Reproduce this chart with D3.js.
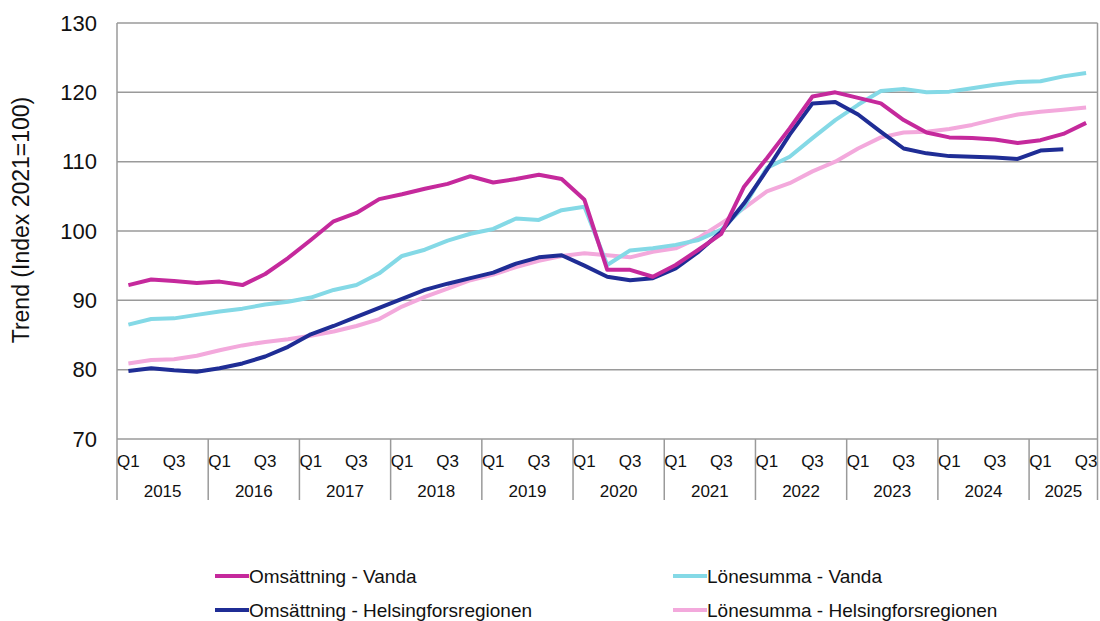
<!DOCTYPE html>
<html>
<head>
<meta charset="utf-8">
<script src="https://cdn.jsdelivr.net/npm/d3@7"></script>
<style>
  body { margin: 0; background: #fff; }
  svg { font-family: "Liberation Sans", Arial, sans-serif; }
</style>
</head>
<body>
<script>
// Data: quarterly trend, index 2021=100
const years = ["2015","2016","2017","2018","2019","2020","2021","2022","2023","2024","2025"];
const quarters = ["Q1","Q2","Q3","Q4"];

const omsVanda = [92.2,93.0,92.8,92.5, 92.7,92.2,93.8,96.1, 98.7,101.4,102.6,104.6,
  105.3,106.1,106.8,107.9, 107.0,107.5,108.1,107.5, 104.5,94.4,94.4,93.4,
  95.1,97.3,99.6,106.4, 110.5,114.8,119.4,120.0, 119.2,118.4,116.0,114.2,
  113.5,113.4,113.2,112.7, 113.1,114.0,115.6];

const lonVanda = [86.5,87.3,87.4,87.9, 88.4,88.8,89.4,89.8, 90.4,91.5,92.2,93.9,
  96.4,97.3,98.6,99.6, 100.3,101.8,101.6,103.0, 103.5,95.1,97.2,97.5,
  98.0,98.7,100.2,103.5, 109.1,110.7,113.4,116.0, 118.2,120.2,120.5,120.0,
  120.1,120.6,121.1,121.5, 121.6,122.3,122.8];

const omsHki = [79.8,80.2,79.9,79.7, 80.2,80.9,81.9,83.3, 85.1,86.3,87.6,88.9,
  90.2,91.5,92.4,93.2, 94.0,95.3,96.2,96.5, 95.0,93.4,92.9,93.2,
  94.6,97.0,99.9,104.0, 108.8,113.9,118.4,118.6, 116.8,114.3,111.9,111.2,
  110.8,110.7,110.6,110.4, 111.6,111.8,null];

const lonHki = [80.9,81.4,81.5,82.0, 82.8,83.5,84.0,84.4, 84.9,85.5,86.3,87.3,
  89.1,90.5,91.7,92.9, 93.7,94.8,95.7,96.4, 96.8,96.5,96.2,97.0,
  97.5,99.0,101.1,103.3, 105.7,106.9,108.6,110.0, 111.9,113.5,114.2,114.3,
  114.7,115.3,116.1,116.8, 117.2,117.5,117.8];

const yTicks = [70, 80, 90, 100, 110, 120, 130];

const seriesNames = ["Omsättning - Vanda", "Lönesumma - Vanda",
                     "Omsättning - Helsingforsregionen", "Lönesumma - Helsingforsregionen"];
const seriesColors = ["#c5299c", "#84d9e6", "#1f2d95", "#f3a9dc"];
const seriesValues = [omsVanda, lonVanda, omsHki, lonHki];

// quarter categories: Q1 2015 .. Q3 2025
const categories = [];
years.forEach(yr => quarters.forEach(q => categories.push({year: yr, q: q})));
categories.length = omsVanda.length;

const W = 1100, H = 621;
const margin = {top: 23, left: 117, right: 2.5, bottom: 182};
const width = W - margin.left - margin.right;
const height = H - margin.top - margin.bottom;

const svg = d3.select("body").append("svg")
  .attr("width", W).attr("height", H);

const g = svg.append("g").attr("transform", `translate(${margin.left},${margin.top})`);

const x = d3.scaleBand().domain(d3.range(categories.length)).range([0, width]);
const y = d3.scaleLinear().domain([70, 130]).range([height, 0]);

// gridlines
g.append("g").selectAll("line").data(yTicks).join("line")
  .attr("x1", 0).attr("x2", width)
  .attr("y1", d => y(d)).attr("y2", d => y(d))
  .attr("stroke", "#9a9a9a").attr("stroke-width", 1.5);

// y axis labels
const yAxis = g.append("g").call(d3.axisLeft(y).tickValues(yTicks).tickSize(0).tickPadding(20));
yAxis.select(".domain").remove();
yAxis.selectAll("text").attr("font-size", 22).attr("fill", "#111")
  .attr("font-family", "Liberation Sans, Arial, sans-serif");

// y title
svg.append("text")
  .attr("transform", `translate(29, 220) rotate(-90)`)
  .attr("text-anchor", "middle")
  .attr("font-size", 23).attr("fill", "#111")
  .text("Trend (Index 2021=100)");

// plot edges + category dividers
const catBottom = height + 61;
g.append("line").attr("x1", 0).attr("x2", 0).attr("y1", 0).attr("y2", catBottom)
  .attr("stroke", "#9a9a9a").attr("stroke-width", 1.5);
g.append("line").attr("x1", width).attr("x2", width).attr("y1", 0).attr("y2", catBottom)
  .attr("stroke", "#9a9a9a").attr("stroke-width", 1.5);

const yearStarts = categories.map((c, i) => c.q === "Q1" ? i : -1).filter(i => i > 0);
g.append("g").selectAll("line").data(yearStarts).join("line")
  .attr("x1", i => x(i)).attr("x2", i => x(i))
  .attr("y1", height).attr("y2", catBottom)
  .attr("stroke", "#9a9a9a").attr("stroke-width", 1.5);

// quarter labels (Q1 and Q3 only)
g.append("g").selectAll("text")
  .data(categories.map((c, i) => ({c, i})).filter(d => d.c.q === "Q1" || d.c.q === "Q3"))
  .join("text")
  .attr("x", d => x(d.i) + x.bandwidth() / 2)
  .attr("y", height + 28)
  .attr("text-anchor", "middle")
  .attr("font-size", 17).attr("fill", "#111")
  .text(d => d.c.q);

// year labels
const yearGroups = d3.groups(categories.map((c, i) => ({c, i})), d => d.c.year);
g.append("g").selectAll("text").data(yearGroups).join("text")
  .attr("x", d => (x(d[1][0].i) + x(d[1][d[1].length - 1].i) + x.bandwidth()) / 2)
  .attr("y", height + 58)
  .attr("text-anchor", "middle")
  .attr("font-size", 17).attr("fill", "#111")
  .text(d => d[0]);

// lines
const line = d3.line()
  .defined(d => d != null)
  .x((d, i) => x(i) + x.bandwidth() / 2)
  .y(d => y(d));

// draw order: pink, cyan, navy, magenta on top
[3, 1, 2, 0].forEach(k => {
  g.append("path")
    .datum(seriesValues[k])
    .attr("fill", "none")
    .attr("stroke", seriesColors[k])
    .attr("stroke-width", 4)
    .attr("stroke-linejoin", "round")
    .attr("d", line);
});

// legend
const legendPos = [[215, 576], [673, 576], [215, 610], [673, 610]];
const legend = svg.append("g");
seriesNames.forEach((name, k) => {
  const [lx, ly] = legendPos[k];
  legend.append("line")
    .attr("x1", lx).attr("x2", lx + 34).attr("y1", ly).attr("y2", ly)
    .attr("stroke", seriesColors[k]).attr("stroke-width", 4);
  legend.append("text")
    .attr("x", lx + 34).attr("y", ly + 6.5)
    .attr("font-size", 19).attr("fill", "#111")
    .text(name);
});
</script>
</body>
</html>
